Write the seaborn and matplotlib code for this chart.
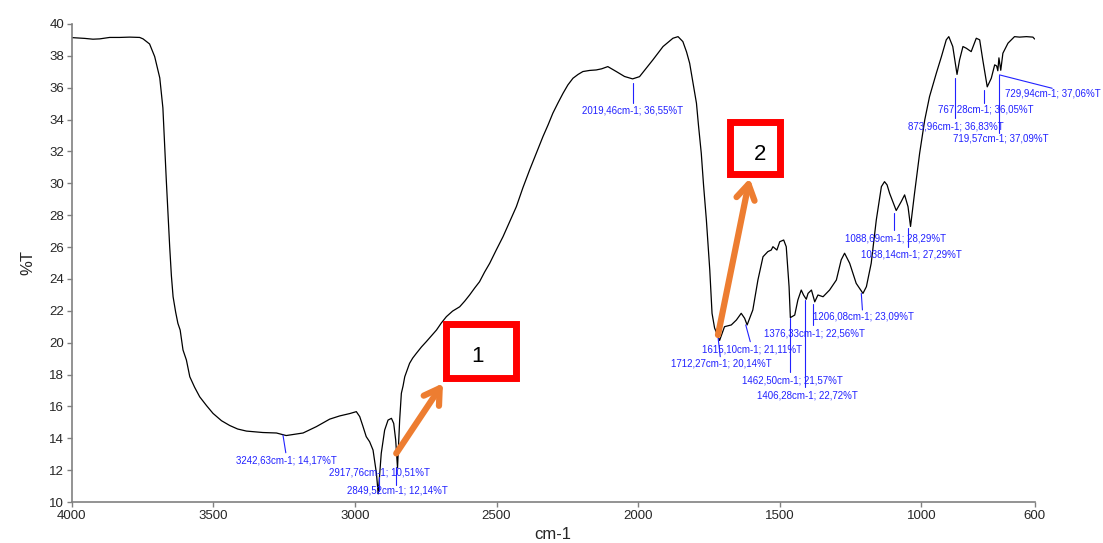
import matplotlib
matplotlib.use("Agg")
import matplotlib.pyplot as plt
from matplotlib.patches import Rectangle
import seaborn as sns
import pandas as pd

# FTIR transmittance spectrum (wavenumber in cm-1, transmittance in %T)
wavenumber = [
    4000, 3954, 3925, 3901, 3866, 3831, 3795, 3760, 3748, 3725, 3707, 3689,
    3678, 3672, 3666, 3654, 3648, 3642, 3633, 3625, 3617, 3607, 3595, 3583,
    3566, 3548, 3524, 3501, 3471, 3442, 3414, 3383, 3325,
    3277, 3242.63, 3183, 3136, 3089, 3054, 3018, 2995, 2983, 2972, 2960, 2948,
    2936, 2924, 2917.76, 2907, 2895, 2883, 2871, 2863, 2856, 2849.52, 2842,
    2836, 2830, 2824, 2807, 2796, 2783, 2765, 2748, 2730, 2712, 2695, 2677,
    2655, 2630, 2612, 2595, 2577, 2560, 2542, 2524, 2501, 2477, 2454,
    2430, 2407, 2383, 2359, 2336, 2318, 2301, 2283, 2265, 2248, 2230, 2212,
    2195, 2171, 2148, 2129, 2107, 2077, 2048, 2019.46,
    1995, 1948, 1912, 1877, 1859, 1842, 1829, 1818, 1808, 1794, 1787, 1777,
    1769, 1759, 1753, 1747, 1739,
    1730, 1712.27, 1695, 1671, 1653, 1636, 1624, 1615.10, 1595, 1577, 1559,
    1542, 1530, 1524, 1510, 1500, 1486, 1477, 1467, 1462.50, 1447, 1436, 1424,
    1416, 1406.28, 1400, 1388, 1376.33, 1365, 1347, 1324, 1300, 1283, 1271,
    1253, 1230, 1206.08, 1194, 1177, 1159, 1141, 1130, 1121, 1112, 1088.69, 1071,
    1059, 1047, 1038.14, 1024, 1006, 988, 971, 947, 929, 912, 903, 889,
    873.96, 865, 853, 841, 824, 806, 794, 783, 767.28, 753, 741, 734, 729.94,
    726, 719.57, 712, 694, 671, 653, 629, 606, 600,
]
transmittance = [
    39.14, 39.09, 39.04, 39.06, 39.15, 39.15, 39.17, 39.15, 39.06, 38.74, 37.95, 36.61,
    34.73, 32.50, 30.21, 26.02, 24.20, 22.88, 21.92, 21.21, 20.79, 19.54, 18.91, 17.86,
    17.20, 16.60, 16.05, 15.56, 15.10, 14.80, 14.58, 14.45, 14.36,
    14.33, 14.17, 14.33, 14.73, 15.20, 15.40, 15.55, 15.67, 15.36, 14.77, 14.10, 13.78,
    13.26, 11.80, 10.51, 13.05, 14.51, 15.14, 15.25, 14.93, 13.89, 12.14, 15.14,
    16.82, 17.28, 17.86, 18.70, 19.03, 19.33, 19.73, 20.06, 20.42, 20.79, 21.23, 21.63,
    21.98, 22.25, 22.61, 22.99, 23.43, 23.82, 24.43, 24.98, 25.81, 26.65, 27.57,
    28.53, 29.71, 30.84, 31.90, 32.93, 33.66, 34.40, 35.04, 35.65, 36.17, 36.59, 36.83,
    37.01, 37.08, 37.11, 37.18, 37.32, 37.01, 36.70, 36.55,
    36.69, 37.74, 38.58, 39.10, 39.20, 38.89, 38.24, 37.53, 36.48, 35.02, 33.66, 31.88,
    29.89, 27.70, 26.13, 24.56, 21.84,
    20.92, 20.14, 21.00, 21.11, 21.42, 21.84, 21.53, 21.11, 22.05, 23.93, 25.39,
    25.71, 25.81, 26.02, 25.81, 26.33, 26.44, 26.02, 23.51, 21.57, 21.73, 22.67, 23.30,
    22.99, 22.72, 23.09, 23.30, 22.56, 22.99, 22.88, 23.30, 23.93, 25.19, 25.61,
    24.98, 23.72, 23.09, 23.51, 24.98, 27.70, 29.79, 30.10, 29.90, 29.37, 28.29, 28.85,
    29.27, 28.53, 27.29, 29.37, 31.88, 33.97, 35.44, 36.91, 37.95, 39.00, 39.20, 38.58,
    36.83, 37.74, 38.58, 38.47, 38.26, 39.10, 39.00, 37.74, 36.05, 36.59, 37.43, 37.36, 37.06,
    37.87, 37.09, 38.16, 38.79, 39.20, 39.17, 39.20, 39.17, 39.05,
]

# Picked peaks
peak_wn = [3242.63, 2917.76, 2849.52, 2019.46, 1615.10, 1712.27, 1462.50, 1406.28,
           1376.33, 1206.08, 1088.69, 1038.14, 873.96, 767.28, 719.57, 729.94]
peak_t = [14.17, 10.51, 12.14, 36.55, 21.11, 20.14, 21.57, 22.72,
          22.56, 23.09, 28.29, 27.29, 36.83, 36.05, 37.09, 37.06]

# label centre and leader line (start -> end) for each peak, in data units
label_xy = [(3243, 12.63), (2914, 11.83), (2851, 10.70), (2019, 34.54),
            (1598, 19.60), (1706, 18.70), (1457, 17.65), (1404, 16.71),
            (1377, 20.59), (1203, 21.63), (1092, 26.55), (1035, 25.56),
            (877, 33.55), (771, 34.60), (718, 32.83), (534, 35.61)]
leader = [((3254, 14.20), (3244, 13.09)), ((2916, 10.70), (2916, 11.60)),
          ((2854, 12.19), (2854, 11.06)), ((2019, 36.30), (2019, 35.04)),
          ((1620, 21.11), (1604, 20.06)), ((1718, 20.37), (1710, 19.12)),
          ((1465, 21.55), (1465, 18.16)), ((1412, 22.68), (1412, 17.21)),
          ((1383, 22.42), (1383, 21.11)), ((1212, 23.09), (1208, 22.05)),
          ((1097, 28.12), (1097, 27.07)), ((1047, 27.18), (1047, 26.02)),
          ((880, 36.59), (880, 34.08)), ((777, 35.86), (777, 35.02)),
          ((726, 36.80), (726, 33.14)), ((724, 36.80), (538, 35.96))]

x_ticks = [4000, 3500, 3000, 2500, 2000, 1500, 1000, 600]
y_ticks = list(range(10, 41, 2))


def fmt(v):
    return f"{v:.2f}".replace(".", ",")


sns.set_theme(style="ticks")
plt.rcParams["font.family"] = ["Liberation Sans", "DejaVu Sans"]

fig = plt.figure(figsize=(11.03, 5.43), dpi=100)
ax = fig.add_axes([0.065, 0.0755, 0.873, 0.8805])

df = pd.DataFrame({"cm-1": wavenumber, "%T": transmittance})
sns.lineplot(data=df, x="cm-1", y="%T", color="black", lw=0.9,
             estimator=None, sort=False, ax=ax)

ax.set_xlim(4000, 600)
ax.set_ylim(10, 40)
ax.set_xticks(x_ticks)
ax.set_yticks(y_ticks)
ax.set_xlabel("cm-1", fontsize=12, labelpad=4)
ax.set_ylabel("%T", fontsize=12, labelpad=10)
ax.tick_params(axis="both", labelsize=9.5, color="#808080", length=3.5,
               width=1, pad=2)
for side in ("top", "right"):
    ax.spines[side].set_visible(False)
for side in ("left", "bottom"):
    ax.spines[side].set_color("#808080")
    ax.spines[side].set_linewidth(1.2)

blue = "#2222ff"
for wn, t, (tx, ty), ((x0, y0), (x1, y1)) in zip(peak_wn, peak_t, label_xy, leader):
    ax.plot([x0, x1], [y0, y1], color=blue, lw=0.8, clip_on=False)
    ax.text(tx, ty, f"{fmt(wn)}cm-1; {fmt(t)}%T", color=blue, fontsize=7,
            ha="center", va="center", clip_on=False)

# Highlighted regions with arrows
orange = "#ED7D31"
boxes = [((2678, 17.81), (2431, 21.14), "1", (2566, 19.10)),
         ((1675, 30.55), (1499, 33.82), "2", (1571, 31.78))]
for (xa, ya), (xb, yb), txt, (cx, cy) in boxes:
    ax.add_patch(Rectangle((xa, ya), xb - xa, yb - ya, fill=False,
                           edgecolor="#ff0000", lw=5, joinstyle="miter",
                           zorder=5))
    ax.text(cx, cy, txt, fontsize=16, color="black", ha="center",
            va="center", zorder=6)

arrows = [((2854, 13.05), (2689, 17.45)), ((1718, 20.48), (1606, 30.31))]
for tail, tip in arrows:
    ax.annotate("", xy=tip, xytext=tail,
                arrowprops=dict(arrowstyle="->,head_length=0.9,head_width=0.55",
                                color=orange, lw=4.5, capstyle="round",
                                joinstyle="round", shrinkA=0, shrinkB=0),
                zorder=6)

fig.savefig("out.png", dpi=100)
